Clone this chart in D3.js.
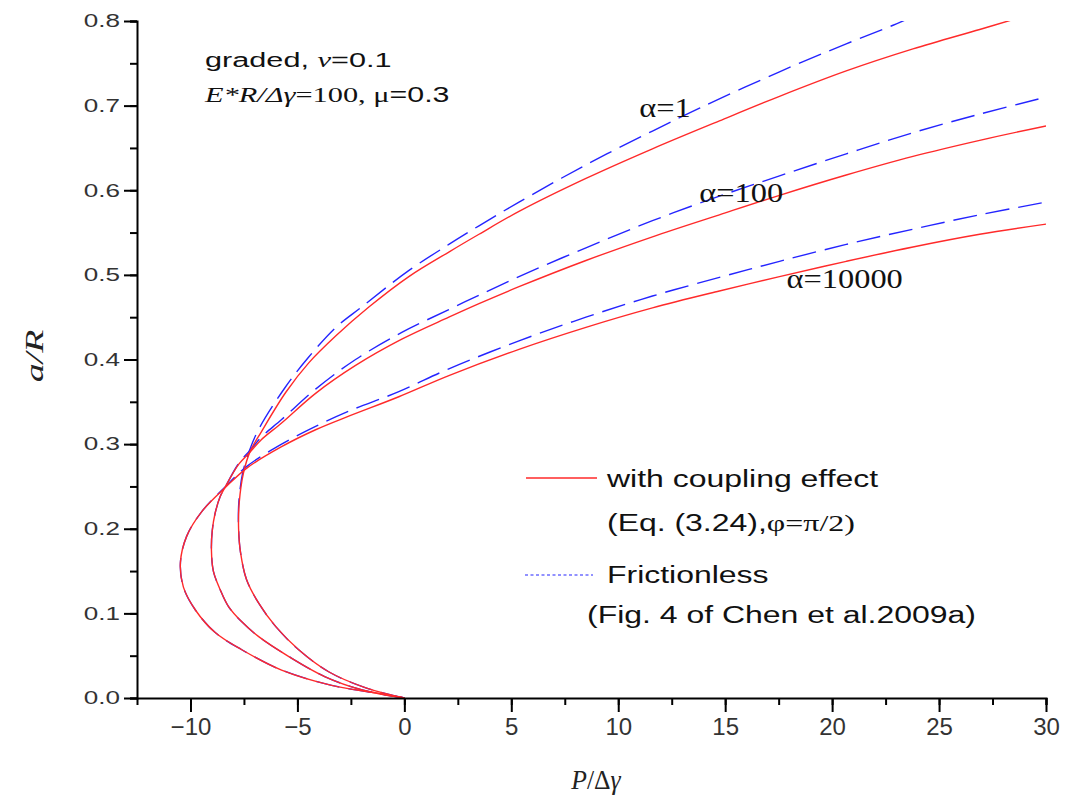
<!DOCTYPE html>
<html>
<head>
<meta charset="utf-8">
<script src="https://cdn.jsdelivr.net/npm/d3@7"></script>
<style>
  body { margin: 0; background: #fff; }
  .sans { font-family: "Liberation Sans", Arial, sans-serif; }
  .serif { font-family: "Liberation Serif", "Times New Roman", serif; }
</style>
</head>
<body>
<svg id="chart" width="1066" height="803"></svg>
<script>
// curves: [P/Δγ, a/R], from the origin round the nose and up
const coupling1 = [[0,0],[-1.8,0.012],[-3.54,0.031],[-4.94,0.057],[-6.0,0.084],[-6.81,0.112],
  [-7.38,0.140],[-7.66,0.172],[-7.75,0.200],[-7.72,0.231],[-7.52,0.266],[-7.2,0.292],[-6.7,0.314],
  [-5.55,0.361],[-4.47,0.396],[-3.2,0.428],[-1.66,0.462],[0.21,0.498],[2.08,0.527],[3.49,0.548],
  [5.36,0.575],[8.49,0.614],[11.6,0.649],[14.73,0.682],[17.54,0.711],[20.66,0.741],[23.78,0.767],
  [26.9,0.790],[28.5,0.802]];
const frictionless1 = [[0,0],[-1.8,0.012],[-3.54,0.031],[-4.94,0.057],[-6.0,0.084],[-6.81,0.112],
  [-7.38,0.140],[-7.66,0.172],[-7.75,0.200],[-7.74,0.231],[-7.56,0.266],[-7.25,0.292],[-6.8,0.318],
  [-5.6,0.366],[-4.5,0.402],[-3.2,0.438],[-2.0,0.462],[0.2,0.505],[2.08,0.536],[3.49,0.558],
  [5.36,0.586],[8.49,0.630],[11.6,0.670],[13.8,0.697],[17.54,0.740],[20.66,0.773],[22.85,0.795],
  [23.4,0.801]];
const coupling100 = [[0,0],[-1.97,0.0095],[-3.7,0.025],[-5.4,0.049],[-6.81,0.0725],[-7.6,0.090],
  [-8.22,0.108],[-8.61,0.128],[-8.93,0.150],[-9.02,0.175],[-8.98,0.198],[-8.85,0.218],[-8.61,0.238],
  [-8.36,0.250],[-7.75,0.276],[-7.2,0.291],[-6.7,0.305],[-5.74,0.325],[-4.15,0.360],[-2.28,0.393],
  [-0.12,0.424],[2.08,0.450],[3.49,0.466],[5.36,0.486],[8.49,0.517],[11.6,0.545],[14.73,0.571],
  [17.54,0.594],[20.66,0.618],[23.78,0.640],[26.9,0.659],[30,0.676]];
const frictionless100 = [[0,0],[-1.97,0.0095],[-3.7,0.025],[-5.4,0.049],[-6.81,0.0725],[-7.6,0.090],
  [-8.22,0.108],[-8.61,0.128],[-8.93,0.150],[-9.02,0.175],[-8.98,0.198],[-8.85,0.218],[-8.61,0.238],
  [-8.36,0.250],[-7.75,0.277],[-7.2,0.293],[-6.7,0.308],[-5.74,0.329],[-4.15,0.365],[-2.28,0.400],
  [-0.12,0.432],[2.08,0.459],[3.49,0.476],[5.36,0.498],[8.49,0.532],[11.6,0.564],[14.73,0.593],
  [17.54,0.617],[20.66,0.643],[23.78,0.668],[26.9,0.690],[30,0.710]];
const coupling10000 = [[0,0],[-1.34,0.006],[-3.4,0.015],[-5.74,0.033],[-7.6,0.057],[-8.83,0.077],
  [-9.77,0.104],[-10.33,0.131],[-10.47,0.160],[-10.18,0.191],[-9.48,0.220],[-8.36,0.249],
  [-7.35,0.272],[-5.74,0.297],[-4.15,0.317],[-2.6,0.333],[-0.26,0.356],[2.08,0.381],[5.36,0.412],
  [8.49,0.438],[11.6,0.461],[14.73,0.481],[17.54,0.498],[20.66,0.516],[23.78,0.533],[26.9,0.548],
  [30,0.560]];
const frictionless10000 = [[0,0],[-1.34,0.006],[-3.4,0.015],[-5.74,0.033],[-7.6,0.057],[-8.83,0.077],
  [-9.77,0.104],[-10.33,0.131],[-10.47,0.160],[-10.18,0.191],[-9.48,0.220],[-8.36,0.250],
  [-7.35,0.274],[-5.74,0.300],[-4.15,0.321],[-2.6,0.339],[-0.26,0.362],[2.08,0.389],[5.36,0.422],
  [8.49,0.450],[11.6,0.475],[14.73,0.497],[17.54,0.516],[20.66,0.536],[23.78,0.554],[26.9,0.571],
  [30,0.586]];

const xTicks = [-10, -5, 0, 5, 10, 15, 20, 25, 30];
const yTicks = [0, 0.1, 0.2, 0.3, 0.4, 0.5, 0.6, 0.7, 0.8];
const alphaLabels = [
  { text: "α=1", P: 10.98, a: 0.686 },
  { text: "α=100", P: 13.79, a: 0.586 },
  { text: "α=10000", P: 17.87, a: 0.485 }
];

const svg = d3.select("#chart");
const margin = { top: 21, right: 20, bottom: 105, left: 137 };
const width = 1066 - margin.left - margin.right;
const height = 803 - margin.top - margin.bottom;

const x = d3.scaleLinear().domain([-12.5, 30]).range([margin.left, margin.left + width]);
const y = d3.scaleLinear().domain([0, 0.8]).range([margin.top + height, margin.top]);

// the source figure's text is drawn wide, so stretch it horizontally
function wideText(parent, tx, ty, sx, cls) {
  return parent.append("text")
    .attr("class", cls || null)
    .attr("transform", "translate(" + tx + "," + ty + ") scale(" + sx + ",1)");
}

svg.append("defs").append("clipPath").attr("id", "plot-clip")
  .append("rect")
  .attr("x", margin.left).attr("y", margin.top)
  .attr("width", width).attr("height", height);

const line = d3.line()
  .x(d => x(d[0]))
  .y(d => y(d[1]))
  .curve(d3.curveCatmullRom.alpha(0.5));

const curves = svg.append("g").attr("clip-path", "url(#plot-clip)");
[frictionless1, frictionless100, frictionless10000].forEach(data => {
  curves.append("path")
    .attr("d", line(data))
    .style("fill", "none")
    .style("stroke", "#2424ff")
    .style("stroke-width", 1.4)
    .style("stroke-dasharray", "24,9");
});
[coupling1, coupling100, coupling10000].forEach(data => {
  curves.append("path")
    .attr("d", line(data))
    .style("fill", "none")
    .style("stroke", "#ff2a2a")
    .style("stroke-width", 1.4);
});

// axes
const xAxis = svg.append("g")
  .attr("transform", "translate(0," + (margin.top + height) + ")")
  .call(d3.axisBottom(x).tickValues(d3.range(-10, 30.1, 2.5)).tickSize(7).tickFormat(""));
xAxis.append("g")
  .call(d3.axisBottom(x).tickValues(xTicks).tickSize(14).tickPadding(6).tickFormat(d3.format("d")));

const yAxis = svg.append("g")
  .attr("transform", "translate(" + margin.left + ",0)")
  .call(d3.axisLeft(y).tickValues(d3.range(0, 0.801, 0.05)).tickSize(7).tickFormat(""));
yAxis.append("g")
  .call(d3.axisLeft(y).tickValues(yTicks).tickSize(13).tickPadding(4).tickFormat(d3.format(".1f")));

svg.selectAll(".domain").style("stroke", "#000").style("stroke-width", 2);
svg.selectAll(".tick line").style("stroke", "#000").style("stroke-width", 2);
svg.selectAll(".tick text")
  .style("font-family", "Liberation Sans, Arial, sans-serif")
  .style("fill", "#333");
xAxis.selectAll(".tick text").style("font-size", "24px");
yAxis.selectAll(".tick text")
  .style("font-size", "18px")
  .attr("transform", function () {
    const x0 = +d3.select(this).attr("x");
    d3.select(this).attr("x", 0);
    return "translate(" + x0 + ",0) scale(1.45,1)";
  });
yAxis.selectAll("g > g > .domain").remove();
xAxis.selectAll("g > g > .domain").remove();

// axis titles
const xt = svg.append("text").attr("class", "serif")
  .attr("transform", "translate(596,789) scale(0.95,1)")
  .attr("text-anchor", "middle")
  .style("font-size", "27px").style("fill", "#222");
xt.append("tspan").style("font-style", "italic").text("P");
xt.append("tspan").text("/Δ");
xt.append("tspan").style("font-style", "italic").text("γ");

svg.append("text").attr("class", "serif")
  .attr("transform", "translate(43," + 356 + ") rotate(-90) scale(1.45,1)")
  .attr("text-anchor", "middle")
  .style("font-size", "26px").style("font-style", "italic").style("fill", "#222")
  .text("a/R");

// annotation, upper left
const n1 = wideText(svg, 205, 67, 1.46).style("font-size", "21px").style("fill", "#111");
n1.append("tspan").attr("class", "sans").text("graded, ");
n1.append("tspan").attr("class", "serif").style("font-style", "italic").text("v");
n1.append("tspan").attr("class", "sans").text("=0.1");
const n2 = wideText(svg, 205, 102, 1.38).style("font-size", "22px").style("fill", "#111");
n2.append("tspan").attr("class", "serif").style("font-style", "italic").text("E*R/Δγ");
n2.append("tspan").attr("class", "serif").text("=100,  μ");
n2.append("tspan").attr("class", "sans").text("=0.3");

// curve labels
alphaLabels.forEach(d => {
  wideText(svg, x(d.P), y(d.a), 1.2, "serif")
    .style("font-size", "27px")
    .style("fill", "#111")
    .text(d.text);
});

// legend
const legend = svg.append("g");
legend.append("line")
  .attr("x1", 526).attr("x2", 597).attr("y1", 478).attr("y2", 478)
  .style("stroke", "#ff2a2a").style("stroke-width", 1.4);
wideText(legend, 607, 487, 1.39, "sans")
  .style("font-size", "23px").style("fill", "#111")
  .text("with coupling effect");
const eq = wideText(legend, 607, 531, 1.39).style("font-size", "23px").style("fill", "#111");
eq.append("tspan").attr("class", "sans").text("(Eq. (3.24),");
eq.append("tspan").attr("class", "serif").text("φ=π/2)");

legend.append("line")
  .attr("x1", 525).attr("x2", 593).attr("y1", 575).attr("y2", 575)
  .style("stroke", "#2424ff").style("stroke-width", 1.2)
  .style("stroke-dasharray", "3,2.5");
wideText(legend, 607, 583, 1.39, "sans")
  .style("font-size", "23px").style("fill", "#111")
  .text("Frictionless");
wideText(legend, 587, 623, 1.39, "sans")
  .style("font-size", "23px").style("fill", "#111")
  .text("(Fig. 4 of Chen et al.2009a)");
</script>
</body>
</html>
